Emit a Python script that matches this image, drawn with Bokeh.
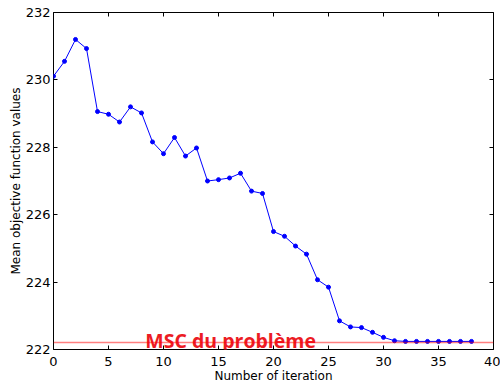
from bokeh.plotting import figure
from bokeh.models import LinearAxis, Span, FixedTicker, Range1d
from bokeh.core.properties import value
from bokeh.embed import file_html
from bokeh.resources import INLINE

iterations = list(range(39))
mean_values = [230.11, 230.55, 231.2, 230.93, 229.06, 228.98, 228.75, 229.2, 229.02,
               228.16, 227.81, 228.29, 227.74, 227.98, 227.0, 227.04, 227.09, 227.23,
               226.7, 226.63, 225.5, 225.36, 225.07, 224.83, 224.07, 223.85, 222.85,
               222.67, 222.65, 222.51, 222.36, 222.26, 222.24, 222.24, 222.24, 222.24,
               222.24, 222.24, 222.24]
msc_value = 222.21
msc_label = "MSC du problème"
msc_label_x = 8.35
msc_label_y = 222.28
x_ticks = [0, 5, 10, 15, 20, 25, 30, 35, 40]
y_ticks = [222, 224, 226, 228, 230, 232]

p = figure(width=500, height=385, output_backend="svg", toolbar_location=None,
           x_range=Range1d(0, 40), y_range=Range1d(222, 232),
           min_border_left=53, min_border_right=7, min_border_top=12, min_border_bottom=34)
p.background_fill_color = "white"
p.border_fill_color = "white"
p.outline_line_color = "black"
p.outline_line_width = 1
p.grid.visible = False

p.xaxis.axis_label = "Number of iteration"
p.yaxis.axis_label = "Mean objective function values"

top = LinearAxis()
right = LinearAxis()
p.add_layout(top, "above")
p.add_layout(right, "right")

for ax in [p.xaxis[0], top]:
    ax.ticker = FixedTicker(ticks=x_ticks)
for ax in [p.yaxis[0], right]:
    ax.ticker = FixedTicker(ticks=y_ticks)

for ax in p.axis:
    ax.major_tick_in = 4
    ax.major_tick_out = 0
    ax.minor_tick_line_color = None
    ax.axis_line_color = None
    ax.major_label_text_font = "DejaVu Sans"
    ax.major_label_text_font_size = "13px"
    ax.major_label_text_color = "black"
    ax.axis_label_text_font = "DejaVu Sans"
    ax.axis_label_text_font_size = "12px"
    ax.axis_label_text_font_style = "normal"
    ax.axis_label_text_color = "black"
    ax.major_label_standoff = 3
    ax.axis_label_standoff = 0

for ax in [top, right]:
    ax.major_label_text_color = None
    ax.major_label_text_font_size = "1px"
    ax.major_label_standoff = 0

p.add_layout(Span(location=msc_value, dimension="width", line_color="#ff0000",
                  line_alpha=0.5, line_width=1.5))

p.line(iterations, mean_values, line_color="#0000ff", line_width=1)
p.scatter(iterations, mean_values, size=4, fill_color="#0000ff", line_color="#0000ff")

p.text(x=[msc_label_x], y=[msc_label_y], text=[msc_label], text_color="#ec1c24",
       text_font=value("Open Sans"), text_font_style="bold", text_font_size="19.5px",
       text_baseline="alphabetic", text_align="left")

open("out.html", "w").write(file_html(p, INLINE))
